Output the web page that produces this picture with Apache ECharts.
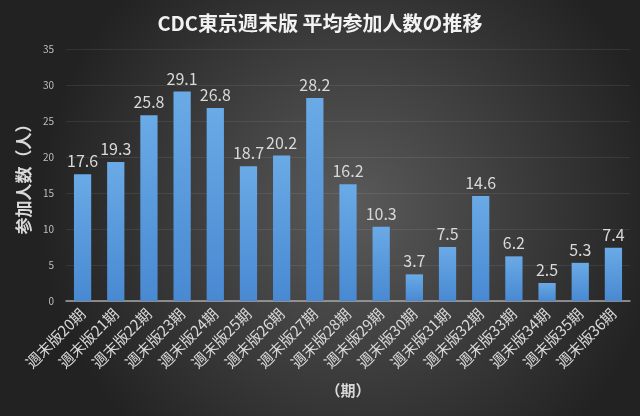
<!DOCTYPE html>
<html><head><meta charset="utf-8">
<script src="https://cdn.jsdelivr.net/npm/echarts@6/dist/echarts.min.js"></script>
<style>html,body{margin:0;padding:0;background:#333;}#c{width:640px;height:416px;}</style>
</head><body><div id="c"></div>
<script>
const categories = ['週末版20期','週末版21期','週末版22期','週末版23期','週末版24期','週末版25期','週末版26期','週末版27期','週末版28期','週末版29期','週末版30期','週末版31期','週末版32期','週末版33期','週末版34期','週末版35期','週末版36期'];
const values = [17.6,19.3,25.8,29.1,26.8,18.7,20.2,28.2,16.2,10.3,3.7,7.5,14.6,6.2,2.5,5.3,7.4];
const yTicks = [0,5,10,15,20,25,30,35];
const font = '"Noto Sans CJK JP", "Noto Sans", sans-serif';
const chart = echarts.init(document.getElementById('c'));
chart.setOption({
  backgroundColor: {type:'radial', x:0.55, y:0.5, r:0.75, colorStops:[{offset:0,color:'#5a5a5a'},{offset:1,color:'#222222'}]},
  title: {text:'CDC東京週末版 平均参加人数の推移', left:'center', top:8, textStyle:{color:'#f2f2f2', fontSize:20, fontWeight:'bold', fontFamily:font}},
  grid: {left:66, right:10, top:49, bottom:115, containLabel:false},
  xAxis: {
    type:'category', data:categories,
    name:'（期）', nameLocation:'middle', nameGap:82,
    nameTextStyle:{color:'#d9d9d9', fontSize:15, fontWeight:'bold', fontFamily:font},
    axisLine:{lineStyle:{color:'#a6a6a6', width:1.5}},
    axisTick:{show:false},
    axisLabel:{rotate:45, color:'#d9d9d9', fontSize:15, fontFamily:font, interval:0, margin:10}
  },
  yAxis: {
    type:'value', min:yTicks[0], max:yTicks[yTicks.length-1], interval:5,
    name:'参加人数（人）', nameLocation:'middle', nameGap:29, nameRotate:90,
    nameTextStyle:{color:'#d9d9d9', fontSize:17, fontWeight:'bold', fontFamily:font},
    axisLine:{show:false}, axisTick:{show:false},
    axisLabel:{color:'#bfbfbf', fontSize:10, fontFamily:font, margin:12},
    splitLine:{lineStyle:{color:'rgba(255,255,255,0.08)', width:1}}
  },
  series: [{
    type:'bar', data:values, barWidth:'52%',
    itemStyle:{color:{type:'linear', x:0, y:0, x2:0, y2:1, colorStops:[{offset:0,color:'#6aaae6'},{offset:1,color:'#4889d2'}]}},
    label:{show:true, position:'top', color:'#d9d9d9', fontSize:16, fontFamily:font, distance:5}
  }]
});
</script></body></html>
